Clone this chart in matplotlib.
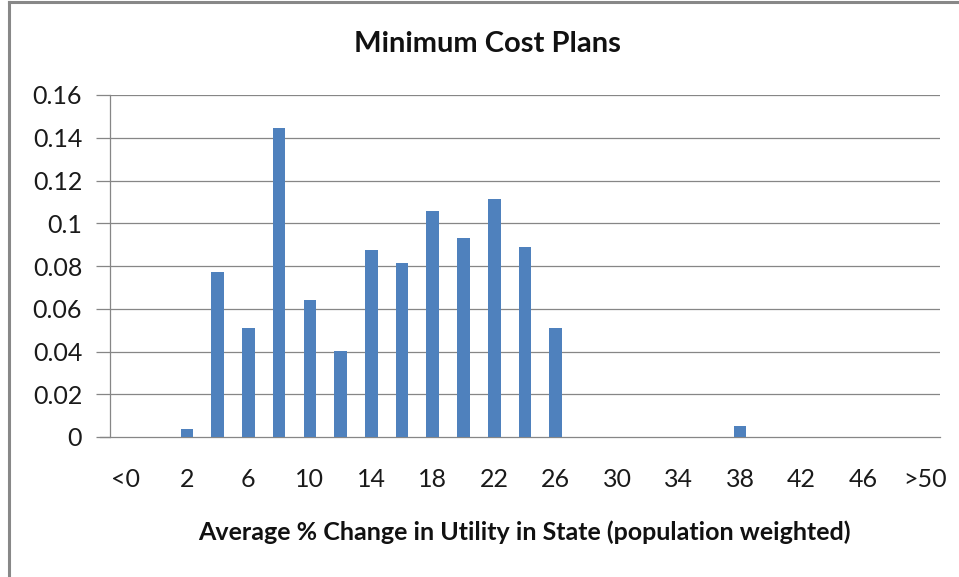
import matplotlib
matplotlib.use("Agg")
import matplotlib.pyplot as plt
from matplotlib.lines import Line2D
import numpy as np

plt.rcParams['font.family'] = ['Lato', 'DejaVu Sans']

categories = ["<0"] + [str(v) for v in range(0, 50, 2)] + [">50"]
values = [0, 0, 0.0036, 0.0773, 0.0508, 0.1444, 0.0641, 0.0402, 0.0875, 0.0814,
          0.1057, 0.0931, 0.1113, 0.0889, 0.0510, 0, 0, 0, 0, 0,
          0.0051, 0, 0, 0, 0, 0, 0]
yticks = [0, 0.02, 0.04, 0.06, 0.08, 0.1, 0.12, 0.14, 0.16]
ytick_labels = ["0", "0.02", "0.04", "0.06", "0.08", "0.1", "0.12", "0.14", "0.16"]

W, H = 959, 577
fig = plt.figure(figsize=(W / 100, H / 100), dpi=100)
ax = fig.add_axes([110 / W, 1 - 437 / H, (940 - 110) / W, (437 - 95) / H])

x = np.arange(len(categories))
ax.bar(x, values, width=0.41, color="#4F81BD", zorder=3)
ax.set_xlim(-0.5, len(categories) - 0.5)
ax.set_ylim(0, 0.16)

grid_c = "#868686"
ax.set_yticks(yticks)
ax.set_yticklabels(ytick_labels, fontsize=18, color="#1a1a1a")
for y in yticks[1:]:
    ax.axhline(y, color=grid_c, lw=0.9, zorder=1)
ax.set_xticks(x[::2])
ax.set_xticklabels(categories[::2], fontsize=18, color="#1a1a1a")
ax.tick_params(axis="x", length=0, pad=22)
ax.tick_params(axis="y", length=10, width=0.9, color=grid_c, pad=10)

for s in ["top", "right"]:
    ax.spines[s].set_visible(False)
for s in ["left", "bottom"]:
    ax.spines[s].set_color(grid_c)
    ax.spines[s].set_linewidth(0.9)
ax.spines["bottom"].set_bounds(-0.5 - 10 / (830 / 27), len(categories) - 0.5)

fig.text(487 / W, 1 - 44 / H, "Minimum Cost Plans", ha="center", va="center",
         fontsize=21, fontweight="bold", color="#111111")
fig.text(524 / W, 1 - 532 / H, "Average % Change in Utility in State (population weighted)",
         ha="center", va="center", fontsize=18, fontweight="bold", color="#111111")

fig.add_artist(Line2D([8.5 / W, 8.5 / W], [0, 1 - 2 / H], color="#888888", lw=2.2))
fig.add_artist(Line2D([8.5 / W, 1], [1 - 2 / H, 1 - 2 / H], color="#888888", lw=2.2))

fig.savefig("out.png", dpi=100)
